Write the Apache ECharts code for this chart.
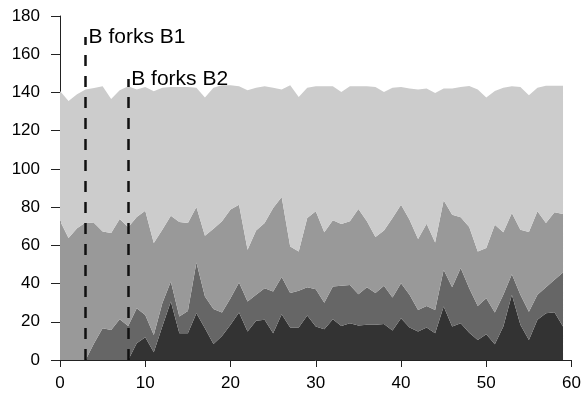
<!DOCTYPE html>
<html>
<head>
<meta charset="utf-8">
<script src="https://cdn.jsdelivr.net/npm/echarts@6/dist/echarts.min.js"></script>
<style>
  html, body { margin: 0; padding: 0; background: #fff; }
  #chart { width: 584px; height: 394px; }
</style>
</head>
<body>
<div id="chart"></div>
<script>
// x categories 0..60 (data runs to 59, axis ends at 60)
const xData = []
for (let i = 0; i <= 60; i++) xData.push(String(i))

// values (per layer, stacked bottom -> top)
const b2Data = [0, 0, 0, 0, 0, 0, 0, 0, 0, 8.7,
  11.9, 4, 17.5, 30.6, 14, 14, 24.5, 16.6, 8.4, 12.6,
  18.4, 24.8, 14.9, 20.5, 21, 14, 24, 17, 17, 23.3,
  17.5, 16.1, 21.3, 17.8, 19.2, 18, 18.4, 18.5, 18.9, 15.4,
  21.9, 17, 14.9, 17, 14, 28, 17.5, 19.2, 14.3, 10.5,
  13.5, 8.2, 17.5, 34.1, 18.4, 10.5, 21, 24.5, 25, 17.5]
const b1Data = [0, 0, 0, 0, 8.7, 16.6, 15.7, 21.3, 17.8, 18.4,
  11.7, 9.1, 12.2, 10.5, 8.7, 11.7, 26.5, 16.6, 18.3, 12.2,
  13.9, 15.8, 15.7, 13.6, 16.6, 21.8, 19.4, 18, 19.2, 14.8,
  19.5, 13.9, 17.2, 21, 20.1, 16.4, 19.7, 16.5, 19.9, 17.3,
  18.3, 17.1, 11.3, 11.3, 12.2, 19.2, 20.6, 28.9, 23.3, 17.8,
  18.8, 16.6, 16.6, 10.8, 15.7, 14.8, 13.1, 13.6, 17, 28.3]
const bData = [72.9, 63.8, 69, 72, 63, 50.7, 50.7, 52.5, 51.6, 47.7,
  54.5, 48.1, 38.5, 34.4, 49.5, 46, 29, 31.8, 42, 47.8,
  46.4, 40.7, 27.1, 33.7, 34.1, 43.7, 41.9, 24.4, 20.6, 36.2,
  40.8, 36.8, 34.6, 32.4, 33.3, 44.6, 34.5, 29.3, 29, 41.6,
  41.1, 39.3, 37.1, 43, 35.3, 36.4, 37.9, 26.6, 32, 28.5,
  26.3, 46, 32.7, 32, 34.1, 41.7, 43.7, 33.6, 35.3, 30.6]
const aData = [67.9, 71.7, 70, 69.5, 70.6, 75.9, 70.2, 67.3, 73.8, 66.7,
  64.7, 79.4, 74.3, 67.3, 70.6, 71.1, 62.5, 72.3, 73.8, 71.1,
  65, 61.9, 83.4, 74.7, 71.5, 63, 56.2, 84.3, 80.8, 68.2,
  65.4, 76.4, 70.1, 69, 70.6, 64.2, 70.6, 78.5, 72.4, 68.2,
  61.5, 68.6, 78.2, 70.7, 78.2, 58.4, 66, 68.1, 73.8, 84.7,
  78.7, 70, 75.7, 66.3, 74.6, 71.5, 64.7, 71.8, 66.2, 67.1]

// fork events: [x, top of dashed line, text]
const forks = [
  [3, 169, 'B forks B1'],
  [8, 147, 'B forks B2']
]
// layer name labels at the right edge: [name, y, colour]
const layerLabels = [
  ['A', 130, '#000'],
  ['B', 65.5, '#000'],
  ['B1', 32, '#fff'],
  ['B2', 10.7, '#fff']
]

const font = 'Liberation Sans, Arial, Helvetica, sans-serif'

function layer(name, data, color) {
  return {
    name: name,
    type: 'line',
    stack: 'all',
    data: data,
    symbol: 'none',
    lineStyle: { width: 0 },
    areaStyle: { color: color, opacity: 1 },
    itemStyle: { color: color }
  }
}

const myChart = echarts.init(document.getElementById('chart'))
const option = {
  animation: false,
  grid: { left: 60, right: 10, top: 16, bottom: 34 },
  xAxis: {
    type: 'category',
    data: xData,
    boundaryGap: false,
    splitLine: { show: false },
    axisLine: { onZero: false, lineStyle: { color: '#222', width: 1 } },
    axisTick: { interval: 9, length: 7, lineStyle: { color: '#222' } },
    axisLabel: { interval: 9, color: '#000', fontSize: 17, fontFamily: font, margin: 15 }
  },
  yAxis: {
    type: 'value',
    min: 0,
    max: 180,
    interval: 20,
    splitLine: { show: false },
    axisLine: { show: true, lineStyle: { color: '#222', width: 1 } },
    axisTick: { show: true, length: 9, lineStyle: { color: '#222' } },
    axisLabel: { color: '#000', fontSize: 17, fontFamily: font, margin: 20 }
  },
  series: [
    layer('B2', b2Data, '#333333'),
    layer('B1', b1Data, '#666666'),
    layer('B', bData, '#999999'),
    layer('A', aData, '#cccccc'),
    // dashed fork markers
    {
      type: 'line',
      data: [],
      markLine: {
        silent: true,
        symbol: 'none',
        label: { show: false },
        lineStyle: { color: '#111', width: 2.5, type: [11, 10] },
        data: forks.map(f => [{ coord: [f[0], 0] }, { coord: [f[0], f[1]] }])
      }
    }
  ]
}
myChart.setOption(option)

// annotation texts, placed from data coordinates
const texts = []
forks.forEach(f => {
  const p = myChart.convertToPixel({ gridIndex: 0 }, [f[0], f[1]])
  texts.push({
    type: 'text',
    x: p[0] + 3,
    y: p[1],
    style: { text: f[2], fill: '#000', font: '21px ' + font, verticalAlign: 'middle' }
  })
})
layerLabels.forEach(l => {
  const p = myChart.convertToPixel({ gridIndex: 0 }, [59, l[1]])
  texts.push({
    type: 'text',
    x: p[0] - 2,
    y: p[1],
    style: { text: l[0], fill: l[2], font: '20px ' + font, align: 'right', verticalAlign: 'middle' }
  })
})
myChart.setOption({ graphic: texts })
</script>
</body>
</html>
